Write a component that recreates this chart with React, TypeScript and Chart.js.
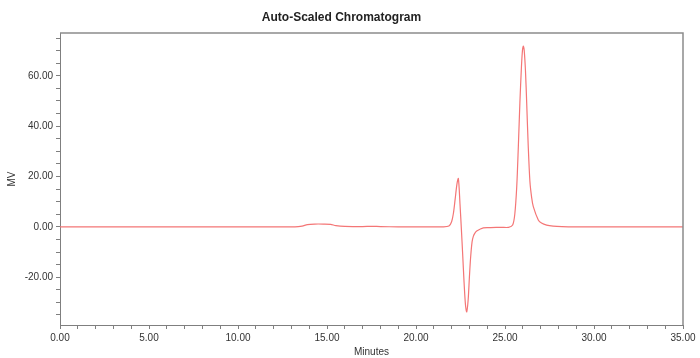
import React, { useEffect, useRef } from "react";
import { Chart, registerables } from "chart.js";

Chart.register(...registerables);

const TITLE = "Auto-Scaled Chromatogram";
const X_TITLE = "Minutes";
const Y_TITLE = "MV";

// Retention time (minutes)
const TIME = [
  0, 5, 10, 13.2, 13.6, 13.9, 14.3, 14.8, 15.2, 15.5, 16.0, 17.0, 17.5, 18.0, 19.0,
  21.5, 21.85, 22.0, 22.1, 22.2, 22.3, 22.38, 22.47, 22.55, 22.62, 22.7, 22.78, 22.85,
  22.93, 23.0, 23.07, 23.15, 23.22, 23.3, 23.41, 23.78, 24.2, 24.8, 25.2,
  25.43, 25.55, 25.66, 25.75, 25.84, 25.92, 25.98, 26.03, 26.08, 26.15, 26.22, 26.3, 26.4, 26.5,
  26.59, 26.87, 27.05, 27.34, 27.7, 28.2, 29, 30, 35,
];
// Detector signal (MV)
const MV = [
  0, 0, 0, 0, 0.3, 0.9, 1.1, 1.1, 1.0, 0.5, 0.2, 0.1, 0.2, 0.1, 0,
  0, 0.3, 2.0, 5.3, 11, 17, 19.2, 9.3, -1, -10.6, -22, -31, -33.8,
  -29, -20, -12, -6, -3.8, -2.6, -1.7, -0.4, -0.3, -0.2, -0.2,
  0.7, 5, 16, 32, 50, 63, 70, 71.8, 70, 62, 49, 33, 18, 11.5,
  8, 2.7, 1.5, 0.7, 0.3, 0.1, 0, 0, 0,
];

const X_MIN = 0;
const X_MAX = 35;
const Y_MIN = -39;
const Y_MAX = 77;
const X_MAJOR_STEP = 5;
const X_MINOR_STEP = 1;
const Y_MAJOR_STEP = 20;
const Y_MINOR_STEP = 5;

const LINE_COLOR = "#f47676";
const AXIS_COLOR = "#7f7f7f";
const TEXT_COLOR = "#333333";
const FONT = "'Liberation Sans', Arial, sans-serif";

const framePlugin = {
  id: "frame",
  afterDraw(chart: any) {
    const { ctx, chartArea } = chart;
    const { left, top, right, bottom } = chartArea;
    ctx.save();
    ctx.strokeStyle = "#8c8c8c";
    ctx.lineWidth = 1.5;
    ctx.beginPath();
    ctx.moveTo(left, top);
    ctx.lineTo(right, top);
    ctx.lineTo(right, bottom);
    ctx.stroke();
    ctx.restore();
  },
};

export default function App() {
  const ref = useRef<HTMLCanvasElement | null>(null);

  useEffect(() => {
    if (!ref.current) return;
    const points = TIME.map((t, i) => ({ x: t, y: MV[i] }));
    const chart = new Chart(ref.current, {
      type: "line",
      data: {
        datasets: [
          {
            data: points,
            borderColor: LINE_COLOR,
            borderWidth: 1.2,
            pointRadius: 0,
            tension: 0.3,
            fill: false,
          },
        ],
      },
      options: {
        responsive: false,
        animation: false,
        devicePixelRatio: 1,
        layout: { padding: { left: 0, right: 17, top: 0, bottom: 0 } },
        plugins: {
          legend: { display: false },
          tooltip: { enabled: false },
          title: {
            display: true,
            text: TITLE,
            color: "#222222",
            font: { family: FONT, size: 12, weight: "bold", lineHeight: 1.2 },
            padding: { top: 10, bottom: 8.6 },
          },
        },
        scales: {
          x: {
            type: "linear",
            min: X_MIN,
            max: X_MAX,
            afterFit(scale: any) {
              scale.height = 33;
            },
            ticks: {
              stepSize: X_MINOR_STEP,
              autoSkip: false,
              maxRotation: 0,
              includeBounds: false,
              padding: 3,
              color: TEXT_COLOR,
              font: { family: FONT, size: 10 },
              callback: (v: any) =>
                Math.abs(v % X_MAJOR_STEP) < 1e-9 ? Number(v).toFixed(2) : "",
            },
            grid: {
              drawOnChartArea: false,
              drawTicks: true,
              tickLength: 4,
              color: AXIS_COLOR,
            },
            border: { display: true, color: AXIS_COLOR, width: 1 },
            title: {
              display: true,
              text: X_TITLE,
              color: TEXT_COLOR,
              font: { family: FONT, size: 10 },
              padding: { top: 0, bottom: 0 },
            },
          },
          y: {
            type: "linear",
            min: Y_MIN,
            max: Y_MAX,
            afterFit(scale: any) {
              scale.width = 60;
            },
            ticks: {
              stepSize: Y_MINOR_STEP,
              autoSkip: false,
              includeBounds: false,
              padding: 3,
              color: TEXT_COLOR,
              font: { family: FONT, size: 10 },
              callback: (v: any) =>
                Math.abs(v % Y_MAJOR_STEP) < 1e-9 ? Number(v).toFixed(2) : "",
            },
            grid: {
              drawOnChartArea: false,
              drawTicks: true,
              tickLength: 4,
              color: AXIS_COLOR,
            },
            border: { display: true, color: AXIS_COLOR, width: 1 },
            title: {
              display: true,
              text: Y_TITLE,
              color: TEXT_COLOR,
              font: { family: FONT, size: 10 },
              padding: { top: 6, bottom: 0 },
            },
          },
        },
      },
      plugins: [framePlugin],
    } as any);
    return () => chart.destroy();
  }, []);

  return (
    <div style={{ position: "absolute", left: 0, top: 0, width: 700, height: 358, background: "#ffffff" }}>
      <canvas ref={ref} width={700} height={358} />
    </div>
  );
}
